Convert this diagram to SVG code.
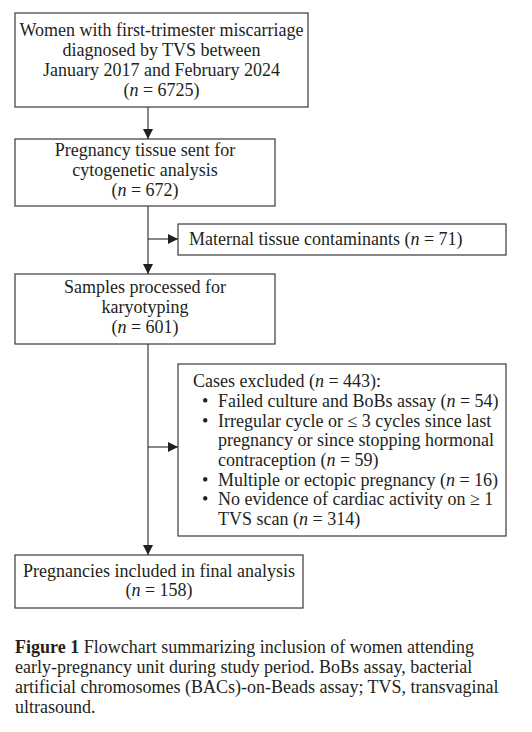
<svg xmlns="http://www.w3.org/2000/svg" width="532" height="732" viewBox="0 0 532 732">
<defs>
<marker id="ah" viewBox="0 0 10 10" refX="10" refY="5" markerWidth="10" markerHeight="10" markerUnits="userSpaceOnUse" orient="auto">
<path d="M0,0 L10,5 L0,10 Z" fill="#231f20"/>
</marker>
<style>
.box{fill:#fff;stroke:#3a3a3a;stroke-width:1.2}
.t{font-family:"Liberation Serif","DejaVu Serif",serif;font-size:18px;fill:#231f20}
.c{text-anchor:middle}
.i{font-style:italic}
.con{fill:none;stroke:#3a3a3a;stroke-width:1.2}
</style>
</defs>
<rect width="532" height="732" fill="#fff"/>
<g id="connectors">
<line class="con" x1="148" y1="107" x2="148" y2="139" marker-end="url(#ah)"/>
<line class="con" x1="148" y1="206" x2="148" y2="274" marker-end="url(#ah)"/>
<line class="con" x1="148" y1="239" x2="178" y2="239" marker-end="url(#ah)"/>
<line class="con" x1="148" y1="344" x2="148" y2="555" marker-end="url(#ah)"/>
<line class="con" x1="148" y1="447" x2="178" y2="447" marker-end="url(#ah)"/>
</g>
<g id="n1">
<rect class="box" x="15" y="13" width="293" height="94"/>
<text class="t c" x="161.5" y="36">Women with first-trimester miscarriage</text>
<text class="t c" x="161.5" y="56">diagnosed by TVS between</text>
<text class="t c" x="161.5" y="76">January 2017 and February 2024</text>
<text class="t c" x="161.5" y="95.5">(<tspan class="i">n</tspan> = 6725)</text>
</g>
<g id="n2">
<rect class="box" x="15" y="139" width="260" height="67"/>
<text class="t c" x="145" y="156">Pregnancy tissue sent for</text>
<text class="t c" x="145" y="176">cytogenetic analysis</text>
<text class="t c" x="145" y="196">(<tspan class="i">n</tspan> = 672)</text>
</g>
<g id="n3">
<rect class="box" x="178" y="224" width="328" height="31"/>
<text class="t" x="189" y="245">Maternal tissue contaminants (<tspan class="i">n</tspan> = 71)</text>
</g>
<g id="n4">
<rect class="box" x="15" y="274" width="260" height="70"/>
<text class="t c" x="145" y="293">Samples processed for</text>
<text class="t c" x="145" y="313">karyotyping</text>
<text class="t c" x="145" y="333">(<tspan class="i">n</tspan> = 601)</text>
</g>
<g id="n5">
<rect class="box" x="178" y="364" width="328" height="172"/>
<text class="t" x="193" y="387">Cases excluded (<tspan class="i">n</tspan> = 443):</text>
<text class="t" x="202" y="407">•</text>
<text class="t" x="218" y="407">Failed culture and BoBs assay (<tspan class="i">n</tspan> = 54)</text>
<text class="t" x="202" y="426.5">•</text>
<text class="t" x="218" y="426.5">Irregular cycle or ≤ 3 cycles since last</text>
<text class="t" x="218" y="446">pregnancy or since stopping hormonal</text>
<text class="t" x="218" y="466">contraception (<tspan class="i">n</tspan> = 59)</text>
<text class="t" x="202" y="485.5">•</text>
<text class="t" x="218" y="485.5">Multiple or ectopic pregnancy (<tspan class="i">n</tspan> = 16)</text>
<text class="t" x="202" y="505">•</text>
<text class="t" x="218" y="505">No evidence of cardiac activity on ≥ 1</text>
<text class="t" x="218" y="524.5">TVS scan (<tspan class="i">n</tspan> = 314)</text>
</g>
<g id="n6">
<rect class="box" x="15" y="555" width="288" height="53"/>
<text class="t c" x="159" y="576.5">Pregnancies included in final analysis</text>
<text class="t c" x="159" y="596">(<tspan class="i">n</tspan> = 158)</text>
</g>
<g id="caption">
<text class="t" x="15" y="653"><tspan font-weight="bold">Figure 1</tspan> Flowchart summarizing inclusion of women attending</text>
<text class="t" x="15" y="673">early-pregnancy unit during study period. BoBs assay, bacterial</text>
<text class="t" x="15" y="693">artificial chromosomes (BACs)-on-Beads assay; TVS, transvaginal</text>
<text class="t" x="15" y="713">ultrasound.</text>
</g>
</svg>
